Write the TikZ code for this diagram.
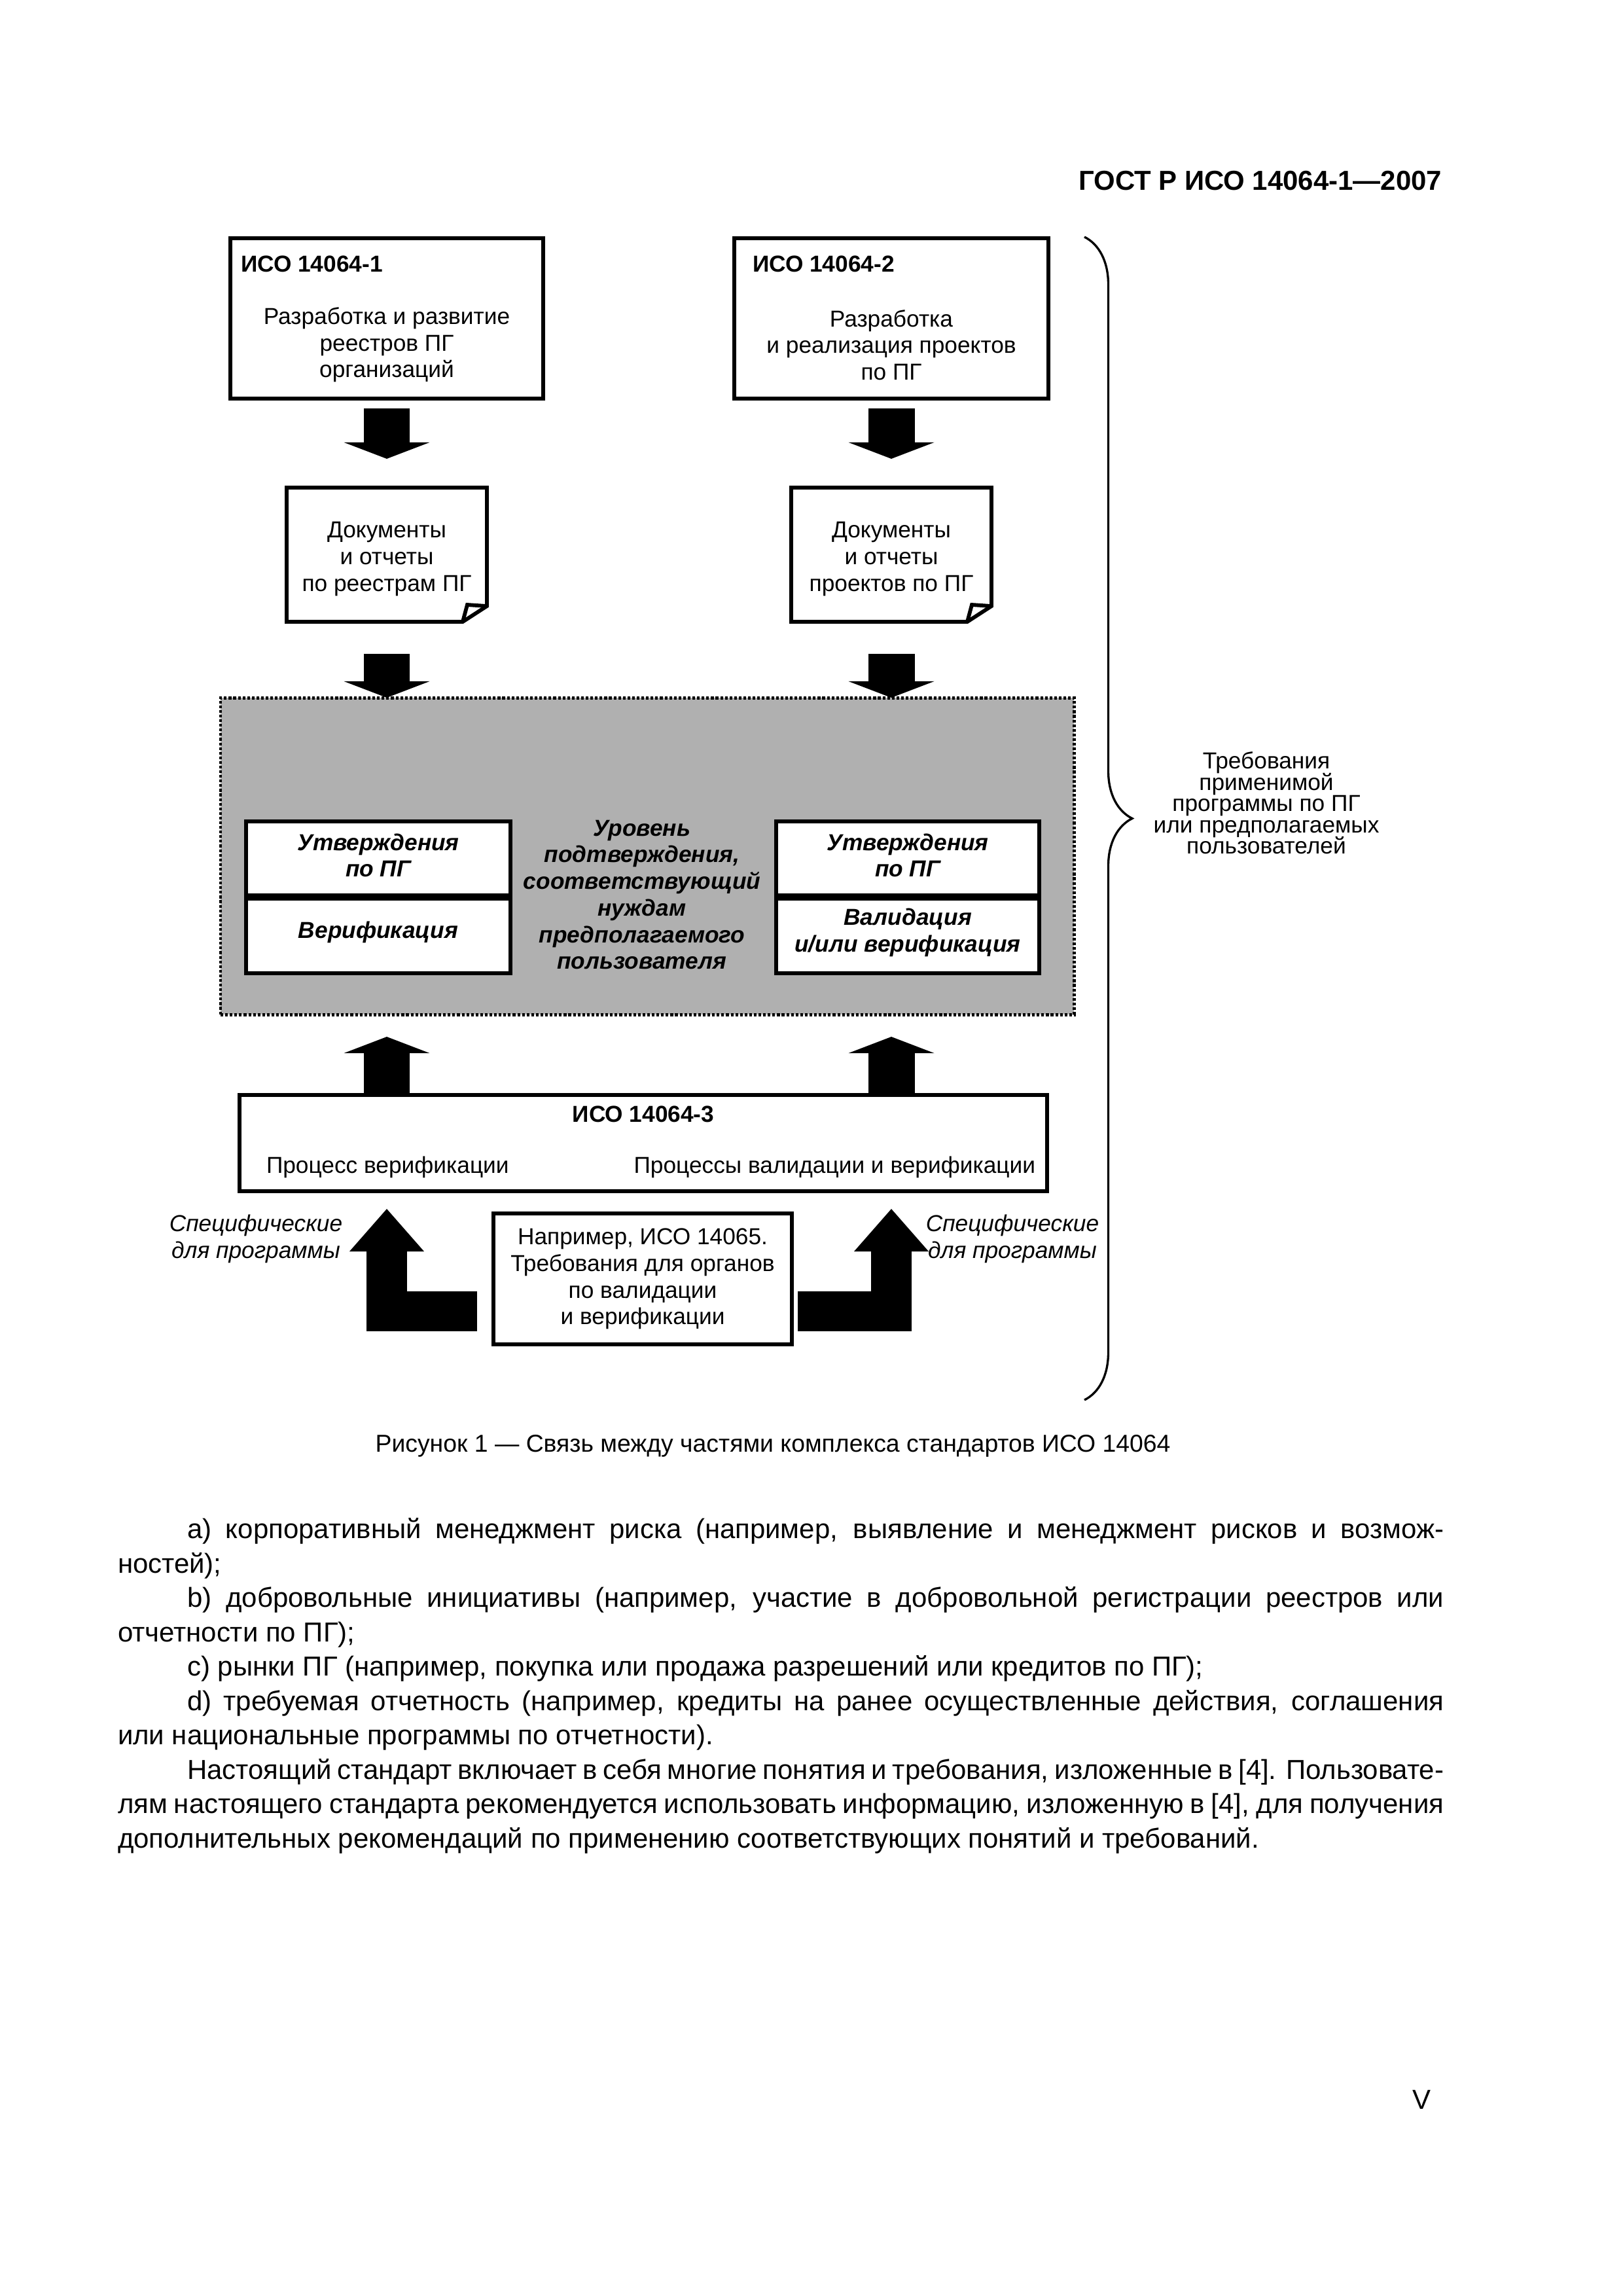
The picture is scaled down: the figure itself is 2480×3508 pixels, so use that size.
\documentclass[tikz,border=0pt]{standalone}
\usepackage{fontspec}
\setmainfont{Liberation Sans}
\usetikzlibrary{arrows.meta, decorations.pathreplacing}

\newcommand{\dpx}{0.0846774mm}
\newcommand{\figfont}{\fontsize{8.5}{9.8}\selectfont}
\newcommand{\tightfont}{\fontsize{8.5}{7.85}\selectfont\lineskiplimit=-20pt\relax}
\newcommand{\fullline}[1]{\hbox to\hsize{#1}}
\definecolor{panelgray}{gray}{0.69}

\tikzset{
  boxsize/.style 2 args={minimum width=#1*\dpx, minimum height=#2*\dpx},
  frame/.style={draw, line width=1.4pt, fill=white},
  figtext/.style={font=\figfont, align=center},
  figtitle/.style={font=\figfont\bfseries},
  figemph/.style={font=\figfont\bfseries\itshape, align=center},
  blockarrow/.style={line width=6.01mm, -{Triangle[width=11.09mm, length=2.12mm, line width=0pt]}},
  bentarrow/.style={line width=5.17mm, -{Triangle[width=9.65mm, length=5.5mm, line width=0pt]}},
  foldline/.style={line width=1.4pt, line join=miter},
}

\begin{document}
\begin{tikzpicture}[x=\dpx, y=-\dpx,
                every node/.style={inner sep=0pt, outer sep=0pt}]
        \useasboundingbox (0,0) rectangle (2480,3508);

        %----------------  header  ----------------
        \node[font=\fontsize{10.1}{12.1}\selectfont\bfseries, anchor=base east] (head) at (2203,290) {ГОСТ Р ИСО 14064-1—2007};

        %----------------  ISO 14064-1 / 14064-2  ----------------
        \node[frame, boxsize={478}{245}] (iso1) at (591,486.5) {};
        \node[frame, boxsize={480}{245}] (iso2) at (1362,486.5) {};
        \node[figtitle, anchor=base west] (iso1t) at (368,415) {ИСО 14064-1};
        \node[figtitle, anchor=base west] (iso2t) at (1150,415) {ИСО 14064-2};
        \node[figtext] (iso1b) at (591,527) {Разработка и развитие\\реестров ПГ\\организаций};
        \node[figtext] (iso2b) at (1362,527) {Разработка\\и реализация проектов\\по ПГ};

        %----------------  reports  ----------------
        \node[boxsize={306}{205}] (rep1) at (591,847.5) {};
        \node[boxsize={306}{205}] (rep2) at (1362,847.5) {};
        \foreach \r in {rep1,rep2}{
          \draw[foldline] (\r.north west) -- (\r.north east) -- ([yshift=2.03mm]\r.south east)
            -- ([xshift=-3.13mm]\r.south east) -- (\r.south west) -- cycle;
          \draw[foldline] ([yshift=2.03mm]\r.south east) -- ([xshift=-2.54mm,yshift=2.2mm]\r.south east)
            -- ([xshift=-3.13mm]\r.south east);
        }
        \node[figtext] (rep1t) at (591,854) {Документы\\и отчеты\\по реестрам ПГ};
        \node[figtext] (rep2t) at (1362,854) {Документы\\и отчеты\\проектов по ПГ};

        %----------------  level of assurance  ----------------
        \node[draw, fill=panelgray, line width=1.2pt, dash pattern=on 0.35mm off 0.25mm,
              boxsize={1304}{484}] (level) at (989,1308) {};
        \node[frame, boxsize={404}{113}] (conf1) at (578,1311.5) {};
        \node[frame, boxsize={404}{114}] (verif) at (578,1430) {};
        \node[frame, boxsize={402}{113}] (conf2) at (1387,1311.5) {};
        \node[frame, boxsize={402}{114}] (valid) at (1387,1430) {};
        \node[figemph] (conf1t) at (578,1307) {Утверждения\\по ПГ};
        \node[figemph] (verift) at (578,1424) {Верификация};
        \node[figemph] (conf2t) at (1387,1307) {Утверждения\\по ПГ};
        \node[figemph] (validt) at (1387,1425) {Валидация\\и/или верификация};
        \node[figemph] (levelt) at (981,1367) {Уровень\\подтверждения,\\соответствующий\\нуждам\\предполагаемого\\пользователя};

        %----------------  ISO 14064-3  ----------------
        \node[frame, boxsize={1234}{147}] (iso3) at (983,1746.5) {};
        \node[figtitle, anchor=base] (iso3t) at (983,1714) {ИСО 14064-3};
        \node[figtext, anchor=base west] (iso3l) at (407,1792) {Процесс верификации};
        \node[figtext, anchor=base east] (iso3r) at (1582,1792) {Процессы валидации и верификации};

        \node[frame, figtext, boxsize={456}{200}] (iso65) at (982,1954) {Например, ИСО 14065.\\Требования для органов\\по валидации\\и верификации};
        \node[figtext, font=\figfont\itshape] (spec1) at (391,1893) {Специфические\\для программы};
        \node[figtext, font=\figfont\itshape] (spec2) at (1547,1893) {Специфические\\для программы};

        %----------------  arrows  ----------------
        \draw[blockarrow, shorten <=1.27mm, shorten >=3.73mm] (iso1.south) -- (rep1.north);
        \draw[blockarrow, shorten <=1.27mm, shorten >=3.73mm] (iso2.south) -- (rep2.north);
        \draw[blockarrow, shorten <=4.15mm] (rep1.south) -- (rep1.south |- level.north);
        \draw[blockarrow, shorten <=4.15mm] (rep2.south) -- (rep2.south |- level.north);
        \draw[blockarrow, shorten >=2.88mm] (iso3.north -| rep1.south) -- (rep1.south |- level.south);
        \draw[blockarrow, shorten >=2.88mm] (iso3.north -| rep2.south) -- (rep2.south |- level.south);
        \draw[bentarrow, shorten <=2.12mm, shorten >=2.29mm] ([yshift=-4.19mm]iso65.west) -| (iso3.south -| rep1.south);
        \draw[bentarrow, shorten <=0.76mm, shorten >=2.29mm] ([yshift=-4.19mm]iso65.east) -| (iso3.south -| rep2.south);

        %----------------  brace  ----------------
        \coordinate (btop) at (1657,362);
        \coordinate (bbot) at (1657,2139);
        \draw[line width=0.8pt, decorate, decoration={brace, amplitude=6.18mm}] (btop) -- (bbot);
        \node[align=center, font=\tightfont] (req) at (1935,1227)
          {Требования\\применимой\\программы по ПГ\\или предполагаемых\\пользователей};

        %----------------  caption and text  ----------------
        \node[font=\fontsize{9}{10.8}\selectfont, anchor=base] (cap) at (1181,2218)
          {Рисунок 1 — Связь между частями комплекса стандартов ИСО 14064};
        \node[anchor=north west] (para) at (180,2314) {\vbox{\hsize=171.56mm
          \fontsize{10.1}{12.65}\selectfont
          \fullline{\strut\hspace*{9mm}a) корпоративный менеджмент риска (например, выявление и менеджмент рисков и возмож-}
          \hbox{ностей);}
          \fullline{\hspace*{9mm}b) добровольные инициативы (например, участие в добровольной регистрации реестров или}
          \hbox{отчетности по ПГ);}
          \hbox{\hspace*{9mm}c) рынки ПГ (например, покупка или продажа разрешений или кредитов по ПГ);}
          \fullline{\hspace*{9mm}d) требуемая отчетность (например, кредиты на ранее осуществленные действия, соглашения}
          \hbox{или национальные программы по отчетности).}
          \fullline{\hspace*{9mm}Настоящий стандарт включает в себя многие понятия и требования, изложенные в [4]. Пользовате-}
          \fullline{лям настоящего стандарта рекомендуется использовать информацию, изложенную в [4], для получения}
          \hbox{дополнительных рекомендаций по применению соответствующих понятий и требований.}}};
        \node[font=\fontsize{10.1}{12.1}\selectfont, anchor=base east] (pnum) at (2186,3222) {V};

\end{tikzpicture}
\end{document}
